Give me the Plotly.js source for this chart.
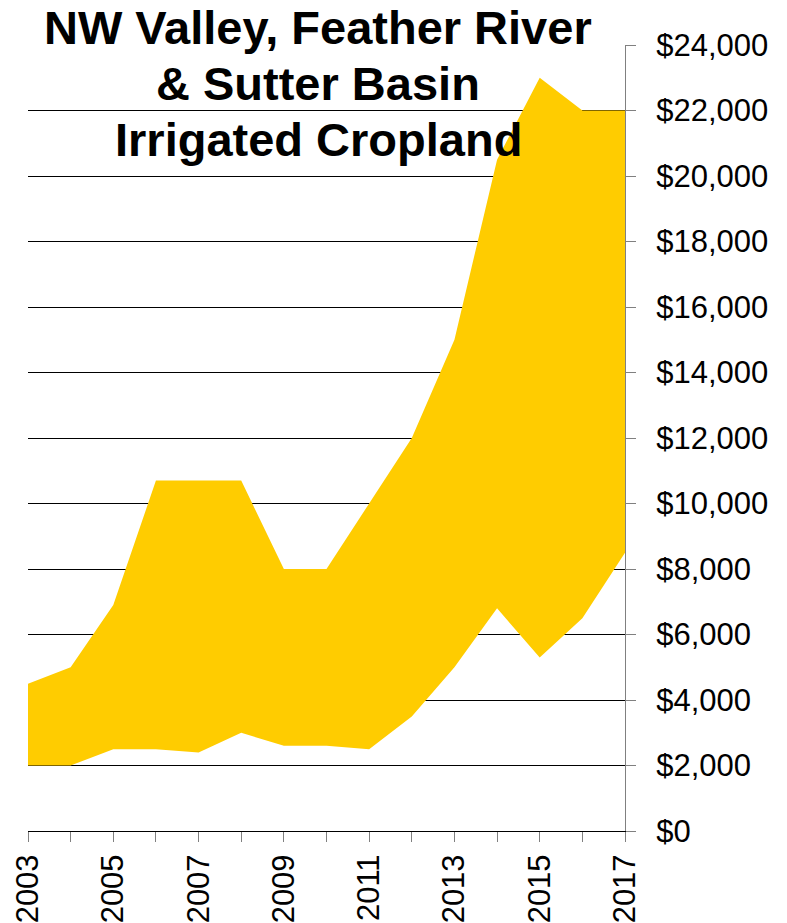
<!DOCTYPE html>
<html>
<head>
<meta charset="utf-8">
<script src="https://cdn.plot.ly/plotly-3.0.1.min.js"></script>
<style>html,body{margin:0;padding:0;background:#fff;}#chart{width:787px;height:923px;}</style>
</head>
<body>
<div id="chart"></div>
<script>
const years = [2003,2004,2005,2006,2007,2008,2009,2010,2011,2012,2013,2014,2015,2016,2017];
const lowValues = [2000,2000,2500,2500,2400,3000,2600,2600,2500,3500,5000,6800,5300,6500,8500];
const highValues = [4500,5000,6900,10700,10700,10700,8000,8000,10000,12000,15000,20500,23000,22000,22000];
const xTickYears = [2003,2005,2007,2009,2011,2013,2015,2017];
const titleLines = ["NW Valley, Feather River","& Sutter Basin","Irrigated Cropland"];

const fillColor = "#FFCC00";
const font = "Liberation Sans, Arial, sans-serif";

const traces = [
  {x: years, y: lowValues, type: "scatter", mode: "lines", line: {width: 0, color: fillColor}, hoverinfo: "skip", showlegend: false},
  {x: years, y: highValues, type: "scatter", mode: "lines", fill: "tonexty", fillcolor: fillColor, line: {width: 0, color: fillColor}, hoverinfo: "skip", showlegend: false}
];

const titleY = [1.0229, 0.9504, 0.8804];
const annotations = titleLines.map((t, i) => ({
  text: "<b>" + t + "</b>", xref: "paper", yref: "paper", x: 0.4858, y: titleY[i],
  xanchor: "center", yanchor: "middle", showarrow: false,
  font: {family: font, size: 47, color: "#000"}
}));

const layout = {
  width: 787, height: 923,
  margin: {l: 28, r: 162, t: 45, b: 92, pad: 0},
  paper_bgcolor: "#fff", plot_bgcolor: "#fff",
  showlegend: false,
  font: {family: font, color: "#000"},
  xaxis: {
    range: [2003, 2017], tickmode: "array", tickvals: xTickYears, ticktext: xTickYears.map(String),
    tickangle: -90, ticks: "outside", ticklen: 10, tickcolor: "#808080", tickwidth: 1,
    minor: {tickmode: "linear", tick0: 2003, dtick: 1, ticks: "outside", ticklen: 10, tickcolor: "#808080", showgrid: false},
    showline: true, linecolor: "#000", linewidth: 1, showgrid: false, zeroline: false,
    tickfont: {family: font, size: 31, color: "#000"}, ticklabelstandoff: 0
  },
  yaxis: {
    side: "right", range: [0, 24000], dtick: 2000, tickprefix: "$", tickformat: ",d",
    ticks: "outside", ticklen: 10, tickcolor: "#808080", tickwidth: 1,
    showline: true, linecolor: "#808080", linewidth: 1,
    showgrid: true, gridcolor: "#000", gridwidth: 1, zeroline: false,
    tickfont: {family: font, size: 31, color: "#000"}, ticklabelstandoff: 14
  },
  annotations: annotations
};

Plotly.newPlot("chart", traces, layout, {staticPlot: true, displayModeBar: false});
</script>
</body>
</html>
